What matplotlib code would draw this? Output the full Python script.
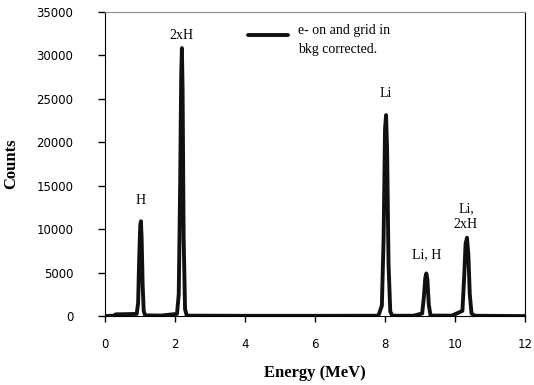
import matplotlib
matplotlib.use("Agg")
import matplotlib.pyplot as plt

# spectrum (Energy in MeV, counts)
energy = [
    0.00, 0.25, 0.30, 0.60, 0.90, 0.94, 0.97, 1.00, 1.02, 1.04, 1.07, 1.10, 1.14,
    1.60, 2.05, 2.10, 2.14, 2.17, 2.19, 2.21, 2.24, 2.28, 2.33,
    4.00, 6.00, 7.80, 7.90, 7.95, 7.99, 8.02, 8.05, 8.09, 8.14, 8.20,
    8.80, 9.05, 9.10, 9.14, 9.17, 9.20, 9.24, 9.29,
    9.90, 10.20, 10.25, 10.29, 10.33, 10.37, 10.41, 10.46, 10.55, 12.00,
]
counts = [
    0, 50, 200, 220, 250, 1500, 6500, 10400, 10900, 9000, 3500, 600, 80,
    60, 250, 2500, 15000, 27500, 30800, 26000, 9000, 800, 50,
    30, 30, 40, 1200, 9000, 21500, 23100, 19000, 6000, 500, 40,
    40, 300, 2200, 4400, 4900, 4200, 1300, 60,
    50, 600, 4500, 8300, 9000, 7000, 2500, 300, 40, 0,
]

peak_labels = ["H", "2xH", "Li", "Li, H", "Li,\n2xH"]
label_x = [1.01, 2.19, 8.02, 9.17, 10.30]
label_y = [13300, 32300, 25600, 7000, 11400]

fig = plt.figure(figsize=(5.34, 3.85), dpi=100)
ax = fig.add_axes([0.197, 0.179, 0.787, 0.791])

ax.plot(energy, counts, color="#111111", linewidth=2.8, solid_joinstyle="round")

for lab, x, y in zip(peak_labels, label_x, label_y):
    ax.text(x, y, lab, ha="center", va="center", fontsize=10,
            family="Liberation Serif", linespacing=1.25)

# legend drawn by hand: line next to first text line
ax.plot([0.34, 0.435], [0.923, 0.923], transform=ax.transAxes,
        color="#111111", linewidth=2.8, solid_capstyle="round")
ax.text(0.458, 0.958, "e- on and grid in\nbkg corrected.",
        transform=ax.transAxes, ha="left", va="top", fontsize=10,
        family="Liberation Serif", linespacing=1.6)

ax.set_xlim(0, 12)
ax.set_ylim(0, 35000)
ax.set_xticks([0, 2, 4, 6, 8, 10, 12])
ax.set_yticks(range(0, 35001, 5000))

ax.tick_params(axis="x", direction="out", length=4, width=1, pad=12,
               labelsize=8.5)
ax.tick_params(axis="y", direction="out", length=5, width=1, pad=18,
               labelsize=8.5)

for s in ["left", "bottom", "right"]:
    ax.spines[s].set_color("black")
ax.spines["top"].set_color("#8a8a8a")

ax.set_xlabel("Energy (MeV)", family="Liberation Serif", fontweight="bold",
              fontsize=12, labelpad=10)
ax.set_ylabel("Counts", family="Liberation Serif", fontweight="bold",
              fontsize=12, labelpad=12)

fig.savefig("out.png", dpi=100)
